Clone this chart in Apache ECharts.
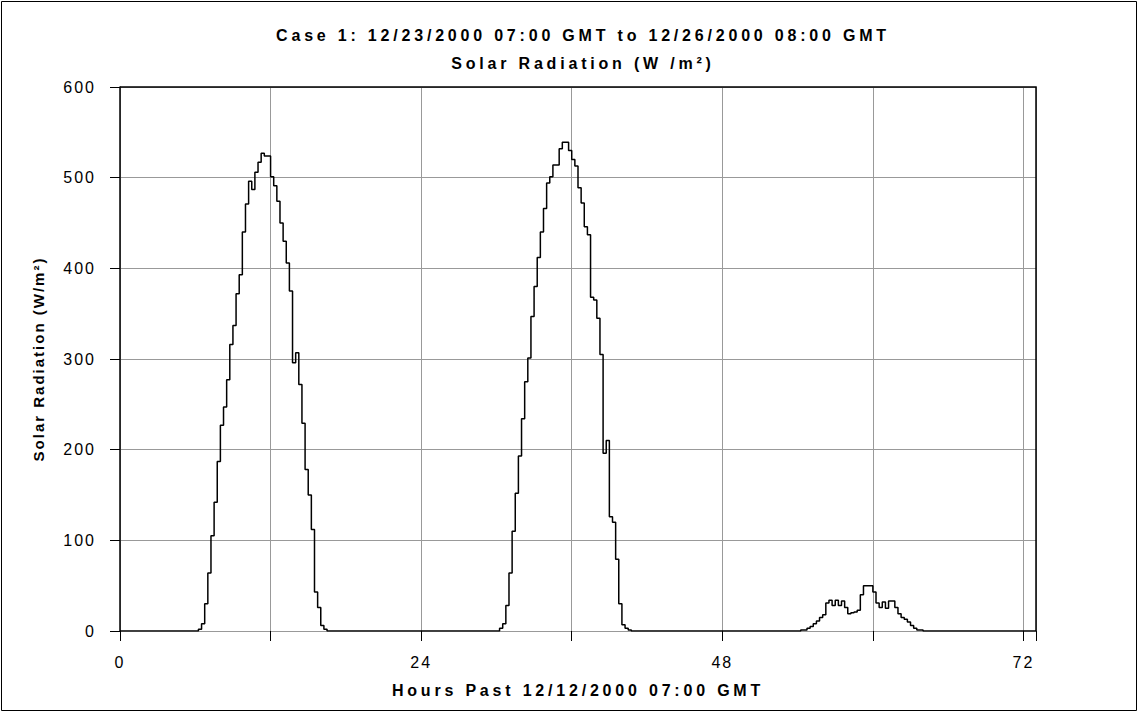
<!DOCTYPE html>
<html>
<head>
<meta charset="utf-8">
<script src="https://cdn.jsdelivr.net/npm/echarts@6/dist/echarts.min.js"></script>
<style>
  html, body { margin: 0; padding: 0; background: #fff; }
  #chart { width: 1138px; height: 712px; }
  /* the source chart sets its text loosely spaced */
  #chart text { letter-spacing: 2px; }
  #chart text[style*="bold"][style*="16px"] { letter-spacing: 3.8px; }
</style>
</head>
<body>
<div id="chart"></div>
<script>
// hour at which each reading starts (15 min readings, only changes kept)
var hours = [
  0,
  6.25, 6.5, 6.75, 7, 7.25, 7.5, 7.75, 8, 8.25, 8.5, 8.75, 9, 9.25, 9.5, 9.75, 10, 10.25, 10.5, 10.75, 11,
  11.25, 11.5, 11.75, 12, 12.25, 12.5, 12.75, 13, 13.25, 13.5, 13.75, 14, 14.25, 14.5, 14.75, 15, 15.25,
  15.5, 15.75, 16, 16.25, 16.5,
  30.25, 30.5, 30.75, 31, 31.25, 31.5, 31.75, 32, 32.25, 32.5, 32.75, 33, 33.25, 33.5, 33.75, 34, 34.25,
  34.5, 34.75, 35, 35.25, 35.5, 35.75, 36, 36.25, 36.5, 36.75, 37, 37.25, 37.5, 37.75, 38, 38.25, 38.5,
  38.75, 39, 39.25, 39.5, 39.75, 40, 40.25, 40.5, 40.75,
  54.25, 54.5, 54.75, 55, 55.25, 55.5, 55.75, 56, 56.25, 56.5, 56.75, 57, 57.25, 57.5, 57.75, 58, 58.25,
  58.5, 58.75, 59, 59.25, 59.5, 59.75, 60, 60.25, 60.5, 60.75, 61, 61.25, 61.5, 61.75, 62, 62.25, 62.5,
  62.75, 63, 63.25, 63.5, 63.75, 64,
  73
];

// solar radiation (W/m2)
var radiation = [
  0,
  2, 8, 30, 64, 105, 142, 187, 227, 247, 277, 316, 337, 372, 393, 440, 471, 496, 487, 506, 517,
  527, 524, 524, 501, 491, 474, 450, 430, 406, 375, 296, 307, 272, 229, 178, 150, 112,
  43, 26, 6, 2, 0,
  3, 8, 28, 64, 110, 152, 193, 234, 275, 301, 347, 380, 412, 440, 466, 494, 501,
  514, 514, 532, 539, 539, 530, 520, 513, 489, 472, 446, 437, 368, 365, 345, 305, 196,
  210, 126, 120, 79, 30, 7, 3, 1, 0,
  1, 1, 3, 5, 8, 11, 15, 18, 31, 34, 28, 34, 28, 33, 26, 19, 20,
  21, 23, 40, 50, 50, 50, 43, 31, 26, 32, 25, 33, 33, 26, 19, 15, 13,
  10, 6, 3, 1, 1, 0,
  0
];

var titleText = 'Case 1: 12/23/2000 07:00 GMT to 12/26/2000 08:00 GMT';
var subTitleText = 'Solar Radiation (W /m\u00b2)';
var xName = 'Hours Past 12/12/2000 07:00 GMT';
var yName = 'Solar Radiation (W/m\u00b2)';

var points = hours.map(function (h, i) { return [h, radiation[i]]; });

var chart = echarts.init(document.getElementById('chart'), null, { renderer: 'svg' });

var font = 'Liberation Sans, Arial, sans-serif';

chart.setOption({
  animation: false,
  backgroundColor: '#fff',
  title: [
    {
      text: titleText,
      left: 578, top: 22, textAlign: 'center',
      textStyle: { fontFamily: font, fontSize: 16, fontWeight: 'bold', color: '#000' }
    },
    {
      text: subTitleText,
      left: 578, top: 50, textAlign: 'center',
      textStyle: { fontFamily: font, fontSize: 16, fontWeight: 'bold', color: '#000' }
    }
  ],
  graphic: [
    {
      type: 'rect', silent: true,
      shape: { x: 1.5, y: 1.5, width: 1135, height: 709 },
      style: { fill: 'none', stroke: '#000', lineWidth: 1 }
    },
    {
      // top and right frame of the plot
      type: 'polyline', silent: true, z: 10,
      shape: { points: [[120, 87], [1036, 87], [1036, 631]] },
      style: { fill: 'none', stroke: '#000', lineWidth: 1.5 }
    }
  ],
  grid: { left: 120, right: 102, top: 87, bottom: 81 },
  xAxis: {
    type: 'value', min: 0, max: 73, interval: 12,
    name: xName, nameLocation: 'middle', nameGap: 51,
    nameTextStyle: { fontFamily: font, fontSize: 16, fontWeight: 'bold', color: '#000' },
    axisLine: { show: true, onZero: false, lineStyle: { color: '#999', width: 1 } },
    axisTick: { show: true, length: 10, lineStyle: { color: '#000' } },
    axisLabel: {
      margin: 23, fontFamily: font, fontSize: 16, color: '#000',
      formatter: function (v) { return v % 24 === 0 ? String(v) : ''; }
    },
    splitLine: { show: true, lineStyle: { color: '#999', width: 1 } }
  },
  yAxis: {
    type: 'value', min: 0, max: 600, interval: 100,
    name: yName, nameLocation: 'middle', nameGap: 74,
    nameTextStyle: { fontFamily: font, fontSize: 15, fontWeight: 'bold', color: '#000' },
    axisLine: { show: true, lineStyle: { color: '#000', width: 1.5 } },
    axisTick: { show: true, length: 10, lineStyle: { color: '#000' } },
    axisLabel: { margin: 24, fontFamily: font, fontSize: 16, color: '#000' },
    splitLine: { show: true, lineStyle: { color: '#999', width: 1 } }
  },
  series: [
    {
      type: 'line',
      step: 'end',
      data: points,
      showSymbol: false,
      symbol: 'none',
      lineStyle: { color: '#000', width: 1.5 },
      z: 5
    }
  ]
});
</script>
</body>
</html>
